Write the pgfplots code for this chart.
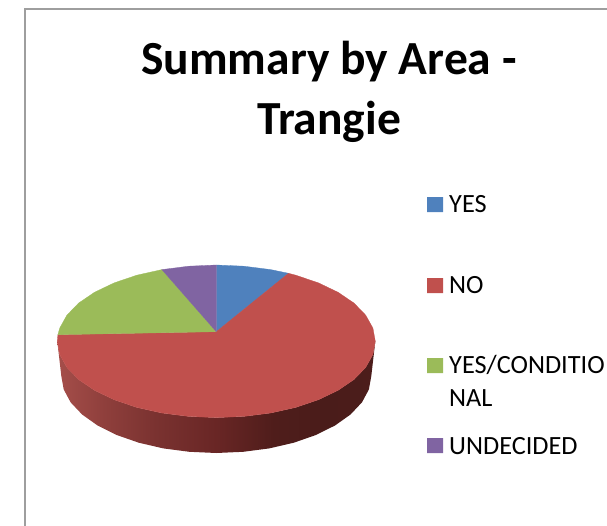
\documentclass[border=0pt]{standalone}
\usepackage{fontspec}
\setmainfont{Carlito}
\usepackage{pgfplots}
\pgfplotsset{compat=1.18}
\definecolor{cblue}{HTML}{4F81BD}
\definecolor{cred}{HTML}{C0504D}
\definecolor{cgreen}{HTML}{9BBB59}
\definecolor{cpurple}{HTML}{8064A2}
\definecolor{s0}{HTML}{A54E4A}
\definecolor{s1}{HTML}{8F3F3C}
\definecolor{s2}{HTML}{7A3230}
\definecolor{s3}{HTML}{692625}
\definecolor{s4}{HTML}{4F1D1B}
\definecolor{s5}{HTML}{4A1C1A}
\definecolor{s6}{HTML}{4C1D1B}
\pgfdeclarehorizontalshading{sideshade}{100bp}{
 color(0bp)=(s0); color(25bp)=(s0); color(32.4bp)=(s1); color(40.5bp)=(s2);
 color(50bp)=(s3); color(59bp)=(s4); color(67bp)=(s5); color(75bp)=(s6); color(100bp)=(s6)}
\begin{document}
\begin{tikzpicture}
\begin{axis}[
  scale only axis, width=607bp, height=526bp,
  xmin=0, xmax=607, ymin=0, ymax=526, y dir=reverse,
  hide axis, clip=true,
]
% frame
\addplot[draw=black!38, line width=2bp, forget plot] coordinates {(25,526)(25,9)(607,9)};
% side wall
\addplot[draw=none, shading=sideshade, shading angle=0, forget plot] coordinates {
(375.3,341.3)(372.9,354.5)(365.7,367.4)(354.0,379.5)(338.1,390.3)(318.5,399.7)(295.8,407.4)(270.7,413.0)(243.9,416.4)(216.3,417.6)(188.7,416.4)(161.9,413.0)(136.8,407.4)(114.1,399.7)(94.5,390.3)(78.6,379.5)(66.9,367.4)(59.7,354.5)(57.3,341.3)
(61.3,376.0)(63.7,389.4)(70.6,402.3)(82.1,414.5)(97.6,425.5)(116.7,435.0)(138.8,442.7)(163.3,448.4)(189.4,451.8)(216.3,453)(243.2,451.8)(269.3,448.4)(293.8,442.7)(315.9,435.0)(335.0,425.5)(350.5,414.5)(362.0,402.3)(368.9,389.4)(371.3,376.0)
(375.3,341.3)};
% YES
\addplot[fill=cblue, draw=cblue, line width=0.3bp, forget plot] coordinates {
(216.3,331.7)(216.3,265.0)(243.9,266.2)(270.7,269.6)(288.5,273.3)(216.3,331.7)};
% NO
\addplot[fill=cred, draw=cred, line width=0.3bp, forget plot] coordinates {
(216.3,331.7)(288.5,273.3)(295.8,275.2)(318.5,282.9)(338.1,292.3)(354.0,303.1)(365.7,315.2)(372.9,328.1)(375.3,341.3)(372.9,354.5)(365.7,367.4)(354.0,379.5)(338.1,390.3)(318.5,399.7)(295.8,407.4)(270.7,413.0)(243.9,416.4)(216.3,417.6)(188.7,416.4)(161.9,413.0)(136.8,407.4)(114.1,399.7)(94.5,390.3)(78.6,379.5)(66.9,367.4)(59.7,354.5)(57.3,341.3)(57.9,334.7)(216.3,331.7)};
% YES/CONDITIONAL
\addplot[fill=cgreen, draw=cgreen, line width=0.3bp, forget plot] coordinates {
(216.3,331.7)(57.9,334.7)(59.7,328.1)(66.9,315.2)(78.6,303.1)(94.5,292.3)(114.1,282.9)(136.8,275.2)(161.9,269.6)(216.3,331.7)};
% UNDECIDED
\addplot[fill=cpurple, draw=cpurple, line width=0.3bp, forget plot] coordinates {
(216.3,331.7)(161.9,269.6)(188.7,266.2)(216.3,265.0)(216.3,331.7)};
% legend swatches
\addplot[fill=cblue, draw=none, forget plot] coordinates {(427,197)(443,197)(443,212)(427,212)(427,197)};
\addplot[fill=cred, draw=none, forget plot] coordinates {(427,278)(443,278)(443,293)(427,293)(427,278)};
\addplot[fill=cgreen, draw=none, forget plot] coordinates {(427,358)(443,358)(443,373)(427,373)(427,358)};
\addplot[fill=cpurple, draw=none, forget plot] coordinates {(427,438)(443,438)(443,453)(427,453)(427,438)};
% legend text
\node[anchor=base west, inner sep=0pt, font=\fontsize{26.3bp}{26.3bp}\selectfont] at (axis cs:449,212.5) {YES};
\node[anchor=base west, inner sep=0pt, font=\fontsize{26.3bp}{26.3bp}\selectfont] at (axis cs:449,293.5) {NO};
\node[anchor=base west, inner sep=0pt, font=\fontsize{26.3bp}{26.3bp}\selectfont] at (axis cs:449,373) {YES/CONDITIO};
\node[anchor=base west, inner sep=0pt, font=\fontsize{26.3bp}{26.3bp}\selectfont] at (axis cs:449,406) {NAL};
\node[anchor=base west, inner sep=0pt, font=\fontsize{26.3bp}{26.3bp}\selectfont] at (axis cs:449,454) {UNDECIDED};
% title
\node[anchor=base, inner sep=0pt, font=\fontsize{47.5bp}{47.5bp}\selectfont\bfseries] at (axis cs:329,74.5) {Summary by Area -};
\node[anchor=base, inner sep=0pt, font=\fontsize{47.5bp}{47.5bp}\selectfont\bfseries] at (axis cs:329,134) {Trangie};
\path (axis cs:0,0) rectangle (axis cs:607,526);
\end{axis}
\end{tikzpicture}
\end{document}
